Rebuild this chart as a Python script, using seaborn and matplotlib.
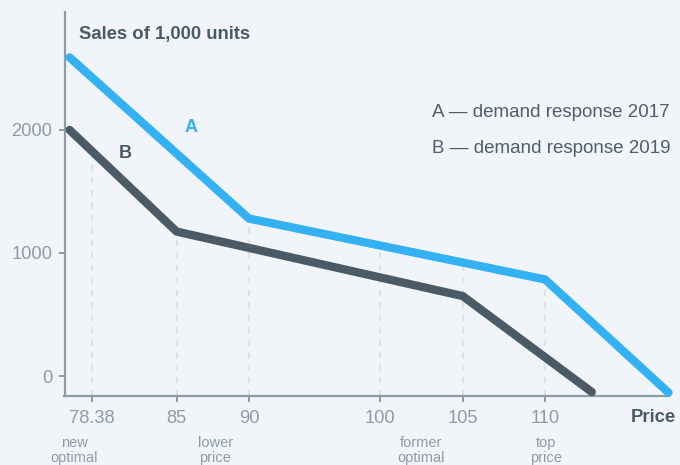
import numpy as np
import pandas as pd
import matplotlib
matplotlib.use("Agg")
import matplotlib.pyplot as plt
import matplotlib.transforms as mtransforms
import seaborn as sns

# ---------------- data ----------------
price_a = [76.67, 90, 110, 117.5]
sales_a = [2590, 1280, 785, -135]
price_b = [76.67, 85, 105, 112.84]
sales_b = [2000, 1174, 650, -130]
series_names = ["A", "B"]
legend_labels = ["A — demand response 2017", "B — demand response 2019"]
tick_prices = [78.38, 85, 90, 100, 105, 110]
tick_labels = ["78.38", "85", "90", "100", "105", "110"]
tick_ref_series = ["B", "B", "A", "A", "A", "A"]
note_prices = [77.04, 87.66, 102.5, 110.05]
note_labels = ["new\noptimal", "lower\nprice", "former\noptimal", "top\nprice"]
y_ticks = [0, 1000, 2000]
y_tick_labels = ["0", "1000", "2000"]
title = "Sales of 1,000 units"
x_title = "Price"

# non-uniform price axis: anchor prices and their spacing along the axis
scale_prices = [70, 78.38, 85, 90, 100, 105, 110, 125]
scale_spacing = [-15.9, 91.7, 176.7, 249, 380, 462.7, 545, 791.9]

# ---------------- style ----------------
BG = "#f1f5f9"
BLUE = "#33b1f2"
DARK = "#4b5b66"
GREY = "#8d9ca7"
GRID = "#dde3e9"

sns.set_theme(style="white")
plt.rcParams["font.family"] = ["Liberation Sans", "DejaVu Sans"]

df = pd.DataFrame({
    "price": price_a + price_b,
    "sales": sales_a + sales_b,
    "series": [series_names[0]] * len(price_a) + [series_names[1]] * len(price_b),
})

fig = plt.figure(figsize=(6.8, 4.65), dpi=100, facecolor=BG)
ax = fig.add_axes([64.5 / 680, 1 - 395.5 / 465, (669 - 64.5) / 680, (395.5 - 12) / 465])
ax.set_facecolor(BG)

sns.lineplot(data=df, x="price", y="sales", hue="series",
             palette={"A": BLUE, "B": DARK}, linewidth=6, legend=False,
             sort=False, estimator=None, ax=ax,
             solid_capstyle="round", solid_joinstyle="round", zorder=3)
for ln in ax.get_lines():
    ln.set_clip_on(False)

fwd = lambda v: np.interp(v, scale_prices, scale_spacing)
inv = lambda v: np.interp(v, scale_spacing, scale_prices)
ax.set_xscale("function", functions=(fwd, inv))

ymin, ymax = -158.5, 2959
ax.set_ylim(ymin, ymax)
ax.set_xlim(76.27, 117.53)

# dashed guide lines up to the referenced curve
ref = {"A": (price_a, sales_a), "B": (price_b, sales_b)}
tops = [np.interp(p, *ref[s]) for p, s in zip(tick_prices, tick_ref_series)]
ax.vlines(tick_prices, ymin, tops, colors=GRID, linewidth=1.5,
          linestyles=(0, (3, 3)), zorder=1)

ax.set_xticks(tick_prices)
ax.set_xticklabels(tick_labels)
ax.xaxis.set_minor_locator(matplotlib.ticker.NullLocator())
ax.yaxis.set_minor_locator(matplotlib.ticker.NullLocator())
ax.set_yticks(y_ticks)
ax.set_yticklabels(y_tick_labels)
ax.set_xlabel("")
ax.set_ylabel("")

for side in ["top", "right"]:
    ax.spines[side].set_visible(False)
for side in ["left", "bottom"]:
    ax.spines[side].set_color(GREY)
    ax.spines[side].set_linewidth(1.6)

ax.tick_params(axis="x", direction="out", length=4.5, width=1.4, color=GREY,
               labelcolor=GREY, labelsize=13.2, pad=6.0, bottom=True)
ax.tick_params(axis="y", direction="out", length=4, width=1.4, color=GREY,
               labelcolor=GREY, labelsize=13.2, pad=4.8, left=True)

# series labels
ax.text(86.0, 1981, series_names[0], color=BLUE, fontsize=13, fontweight="bold",
        ha="center", va="baseline")
ax.text(80.97, 1770, series_names[1], color=DARK, fontsize=13, fontweight="bold",
        ha="center", va="baseline")

# notes under the ticks
note_tr = mtransforms.blended_transform_factory(ax.transData, fig.transFigure)
for p, lab in zip(note_prices, note_labels):
    ax.text(p, 1 - 450.5 / 465, lab, transform=note_tr, clip_on=False,
            color=GREY, fontsize=10.5, ha="center", va="center",
            linespacing=1.05)

# title, axis title, legend
fig.text(79 / 680, 1 - 39.3 / 465, title, color=DARK, fontsize=13.3,
         fontweight="bold", ha="left", va="baseline")
fig.text(676 / 680, 1 - 417 / 465, x_title, color=DARK, fontsize=13.3,
         fontweight="bold", ha="right", va="center")
fig.text(432 / 680, 1 - 117.3 / 465, legend_labels[0], color="#4f5e69",
         fontsize=13.5, ha="left", va="baseline")
fig.text(432 / 680, 1 - 152.9 / 465, legend_labels[1], color="#4f5e69",
         fontsize=13.5, ha="left", va="baseline")

fig.savefig("out.png", dpi=100, facecolor=BG)
